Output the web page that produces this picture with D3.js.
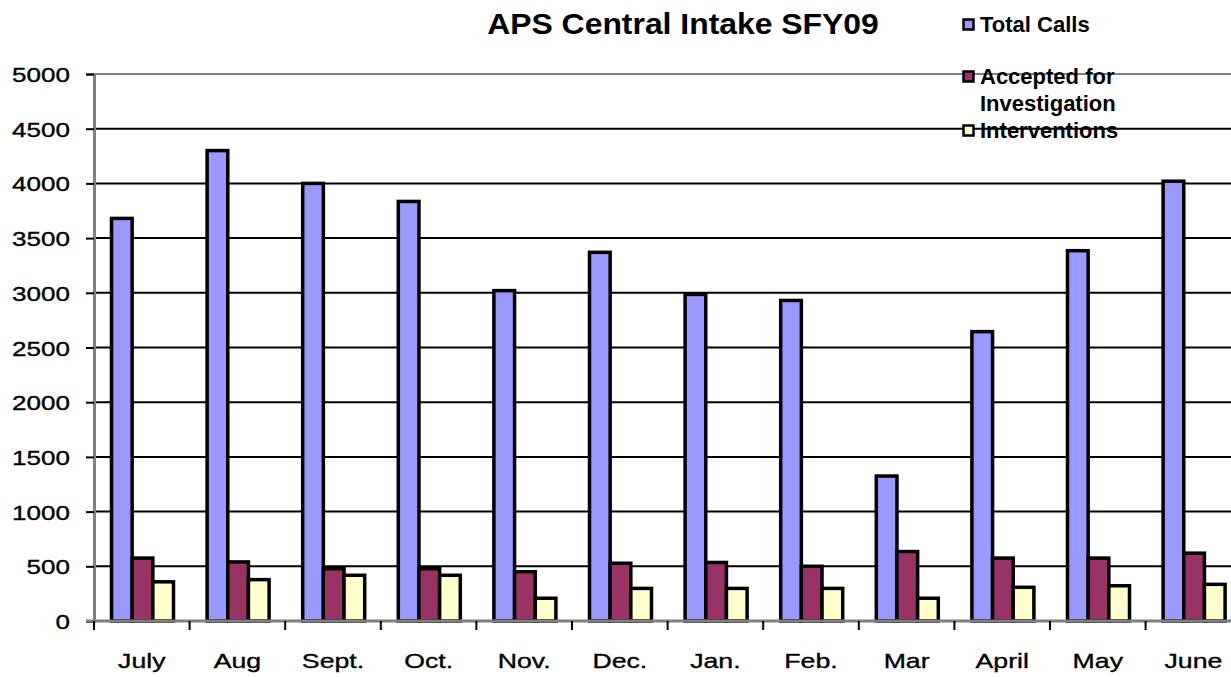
<!DOCTYPE html>
<html>
<head>
<meta charset="utf-8">
<script src="https://cdn.jsdelivr.net/npm/d3@7"></script>
<style>
  body { margin: 0; background: #fff; overflow: hidden; }
  text { font-family: "Liberation Sans", Arial, sans-serif; fill: #000; }
</style>
</head>
<body>
<div id="chart"></div>
<script>
const months = ["July", "Aug", "Sept.", "Oct.", "Nov.", "Dec.", "Jan.", "Feb.", "Mar", "April", "May", "June"];
const seriesNames = ["Total Calls", "Accepted for Investigation", "Interventions"];
const totalCalls = [3680, 4300, 4000, 3835, 3020, 3370, 2985, 2930, 1325, 2645, 3385, 4020];
const accepted = [575, 540, 478, 478, 450, 528, 535, 500, 635, 575, 575, 620];
const interventions = [358, 378, 418, 418, 208, 298, 298, 298, 208, 308, 322, 335];
const yTicks = [0, 500, 1000, 1500, 2000, 2500, 3000, 3500, 4000, 4500, 5000];
const colors = ["#9999ff", "#993366", "#ffffcc"];

const W = 1231, H = 677;
const plotLeft = 94, plotTop = 74, plotBottom = 621;
const band = 95.6;

const svg = d3.select("#chart").append("svg")
    .attr("width", W)
    .attr("height", H);

const y = d3.scaleLinear().domain([0, 5000]).range([plotBottom, plotTop]);
const x = d3.scaleBand().domain(months).range([plotLeft, plotLeft + band * months.length]);
const x1 = d3.scaleBand().domain(seriesNames).range([0, 62]);

const rows = months.map((m, i) => ({
    month: m,
    values: [totalCalls[i], accepted[i], interventions[i]]
}));

// gridlines
svg.append("g")
    .selectAll("line")
    .data(yTicks.filter(d => d > 0))
    .join("line")
    .attr("x1", plotLeft)
    .attr("x2", x.range()[1])
    .attr("y1", d => y(d))
    .attr("y2", d => y(d))
    .attr("stroke", d => d === 5000 ? "#808080" : "#000")
    .attr("stroke-width", 2);

// y axis
const yAxis = svg.append("g")
    .attr("transform", `translate(${plotLeft},0)`)
    .call(d3.axisLeft(y).tickValues(yTicks).tickSize(8).tickFormat(d3.format("d")));
yAxis.select(".domain").attr("stroke", "#808080").attr("stroke-width", 3);
yAxis.selectAll(".tick line").attr("stroke", "#000").attr("stroke-width", 2);
yAxis.selectAll(".tick text")
    .attr("x", -24 / 1.24)
    .attr("dy", "0.36em")
    .attr("transform", "scale(1.24,1)")
    .style("font-size", "21px")
    .style("stroke", "#000")
    .style("stroke-width", 0.35);

// bars
const groups = svg.append("g")
    .selectAll("g")
    .data(rows)
    .join("g")
    .attr("transform", d => `translate(${x(d.month) + 17.5},0)`);

groups.selectAll("rect")
    .data(d => d.values.map((v, j) => ({key: seriesNames[j], value: v, j: j})))
    .join("rect")
    .attr("x", d => x1(d.key))
    .attr("width", x1.bandwidth())
    .attr("y", d => y(d.value))
    .attr("height", d => y(0) - y(d.value))
    .attr("fill", d => colors[d.j])
    .attr("stroke", "#000")
    .attr("stroke-width", 3.5);

// x axis
svg.append("line")
    .attr("x1", plotLeft - 8)
    .attr("x2", x.range()[1])
    .attr("y1", plotBottom)
    .attr("y2", plotBottom)
    .attr("stroke", "#808080")
    .attr("stroke-width", 3);

svg.append("g")
    .selectAll("line")
    .data(months)
    .join("line")
    .attr("x1", d => x(d))
    .attr("x2", d => x(d))
    .attr("y1", plotBottom)
    .attr("y2", plotBottom + 9)
    .attr("stroke", "#000")
    .attr("stroke-width", 2);

const xAxis = svg.append("g")
    .attr("transform", `translate(0,${plotBottom})`)
    .call(d3.axisBottom(x).tickSize(0).tickPadding(0));
xAxis.select(".domain").remove();
xAxis.selectAll(".tick text")
    .attr("y", 47)
    .attr("dy", 0)
    .attr("transform", "scale(1.27,1)")
    .style("font-size", "21px")
    .style("stroke", "#000")
    .style("stroke-width", 0.35);

// title
svg.append("text")
    .attr("transform", "translate(683,34) scale(1.1,1)")
    .attr("text-anchor", "middle")
    .style("font-size", "29px")
    .style("font-weight", "bold")
    .text("APS Central Intake SFY09");

// legend
const legend = [
    {name: "Total Calls", lines: ["Total Calls"], y: 18},
    {name: "Accepted for Investigation", lines: ["Accepted for", "Investigation"], y: 70},
    {name: "Interventions", lines: ["Interventions"], y: 124}
];
const lg = svg.append("g");
legend.forEach((d, i) => {
    lg.append("rect")
        .attr("x", 963.5)
        .attr("y", d.y + 1.5)
        .attr("width", 10)
        .attr("height", 10)
        .attr("fill", colors[i])
        .attr("stroke", "#000")
        .attr("stroke-width", 2.5);
    d.lines.forEach((t, k) => {
        lg.append("text")
            .attr("x", 980)
            .attr("y", d.y + 14 + k * 27)
            .style("font-size", "22px")
            .style("font-weight", "bold")
            .text(t);
    });
});
</script>
</body>
</html>
